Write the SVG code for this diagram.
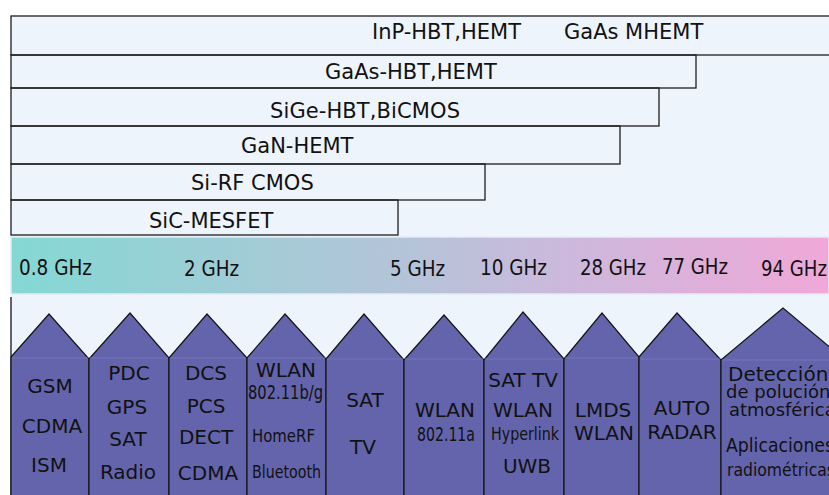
<svg xmlns="http://www.w3.org/2000/svg" width="829" height="495" viewBox="0 0 829 495">
  <defs>
    <linearGradient id="band" x1="0" y1="0" x2="1" y2="0">
      <stop offset="0" stop-color="#84d8d4"/>
      <stop offset="0.48" stop-color="#b4c4d8"/>
      <stop offset="0.68" stop-color="#ccb8dc"/>
      <stop offset="1" stop-color="#f0a8d8"/>
    </linearGradient>
  </defs>
  <style>
    .bar { fill: none; stroke: #1e1e1e; stroke-width: 1.3; }
    .lbl { font-family: "DejaVu Sans", "Liberation Sans", sans-serif; font-size: 21px; fill: #111; }
    .freq { font-family: "DejaVu Sans", "Liberation Sans", sans-serif; font-size: 22px; fill: #111; }
    .house { fill: #6464ac; stroke: #141414; stroke-width: 1.2; stroke-linejoin: miter; }
    .eave { stroke: #7474b8; stroke-width: 1; }
    .app { font-family: "DejaVu Sans", "Liberation Sans", sans-serif; font-size: 20px; fill: #111; text-anchor: middle; }
    .small { font-size: 18px; }
    .left { text-anchor: start; }
  </style>

  <!-- page and panel -->
  <rect x="0" y="0" width="829" height="495" fill="#ffffff"/>
  <rect x="11" y="16" width="818" height="479" fill="#eef4fc"/>

  <!-- technology bars -->
  <g id="technologies">
    <g id="inp"><rect class="bar" x="11" y="16" width="830" height="39"/>
      <text class="lbl" x="372" y="39">InP-HBT,HEMT</text>
      <text class="lbl" x="564" y="39">GaAs MHEMT</text></g>
    <g id="gaas"><rect class="bar" x="11" y="55" width="685" height="33"/>
      <text class="lbl" x="325" y="79">GaAs-HBT,HEMT</text></g>
    <g id="sige"><rect class="bar" x="11" y="88" width="648" height="38"/>
      <text class="lbl" x="270" y="118" textLength="190">SiGe-HBT,BiCMOS</text></g>
    <g id="gan"><rect class="bar" x="11" y="126" width="609" height="38"/>
      <text class="lbl" x="241" y="153">GaN-HEMT</text></g>
    <g id="sirf"><rect class="bar" x="11" y="164" width="474" height="36"/>
      <text class="lbl" x="191" y="190">Si-RF CMOS</text></g>
    <g id="sic"><rect class="bar" x="11" y="200" width="387" height="35"/>
      <text class="lbl" x="149" y="228">SiC-MESFET</text></g>
  </g>

  <!-- frequency scale -->
  <g id="scale">
    <rect x="11" y="237" width="818" height="57" fill="url(#band)" stroke="#e4eaf4" stroke-width="1.5"/>
    <text class="freq" x="19" y="275" textLength="73" lengthAdjust="spacingAndGlyphs">0.8 GHz</text>
    <text class="freq" x="184" y="276" textLength="55" lengthAdjust="spacingAndGlyphs">2 GHz</text>
    <text class="freq" x="390" y="276" textLength="55" lengthAdjust="spacingAndGlyphs">5 GHz</text>
    <text class="freq" x="480" y="275" textLength="67" lengthAdjust="spacingAndGlyphs">10 GHz</text>
    <text class="freq" x="580" y="275" textLength="66" lengthAdjust="spacingAndGlyphs">28 GHz</text>
    <text class="freq" x="662" y="274" textLength="66" lengthAdjust="spacingAndGlyphs">77 GHz</text>
    <text class="freq" x="761" y="276" textLength="66" lengthAdjust="spacingAndGlyphs">94 GHz</text>
  </g>

  <!-- application houses -->
  <line x1="11" y1="297" x2="11" y2="495" stroke="#141414" stroke-width="1.3"/>
  <g id="applications">
    <g id="app1">
      <polygon class="house" points="11,357 49,314 89,359 89,500 11,500"/>
      <line class="eave" x1="12" y1="358" x2="88" y2="358"/>
      <text class="app" x="50" y="393">GSM</text>
      <text class="app" x="52" y="433">CDMA</text>
      <text class="app" x="49" y="472">ISM</text>
    </g>
    <g id="app2">
      <polygon class="house" points="89,359 130,313 169,358 169,500 89,500"/>
      <line class="eave" x1="90" y1="358" x2="168" y2="358"/>
      <text class="app" x="129" y="380">PDC</text>
      <text class="app" x="127" y="414">GPS</text>
      <text class="app" x="128" y="446">SAT</text>
      <text class="app" x="128" y="479">Radio</text>
    </g>
    <g id="app3">
      <polygon class="house" points="169,358 207,314 247,358 247,500 169,500"/>
      <line class="eave" x1="170" y1="358" x2="246" y2="358"/>
      <text class="app" x="206" y="380">DCS</text>
      <text class="app" x="206" y="413">PCS</text>
      <text class="app" x="206" y="444">DECT</text>
      <text class="app" x="208" y="480">CDMA</text>
    </g>
    <g id="app4">
      <polygon class="house" points="247,358 285,314 326,359 326,500 247,500"/>
      <line class="eave" x1="248" y1="358" x2="325" y2="358"/>
      <text class="app" x="286" y="377">WLAN</text>
      <text class="app left" x="248" y="399" textLength="75" lengthAdjust="spacingAndGlyphs">802.11b/g</text>
      <text class="app small left" x="252" y="442" textLength="63" lengthAdjust="spacingAndGlyphs">HomeRF</text>
      <text class="app small left" x="252" y="478" textLength="69" lengthAdjust="spacingAndGlyphs">Bluetooth</text>
    </g>
    <g id="app5">
      <polygon class="house" points="326,359 364,314 404,360 404,500 326,500"/>
      <line class="eave" x1="327" y1="359" x2="403" y2="359"/>
      <text class="app" x="365" y="407">SAT</text>
      <text class="app" x="363" y="454">TV</text>
    </g>
    <g id="app6">
      <polygon class="house" points="404,360 444,315 484,360 484,500 404,500"/>
      <line class="eave" x1="405" y1="359" x2="483" y2="359"/>
      <text class="app" x="445" y="417">WLAN</text>
      <text class="app left" x="417" y="441" textLength="58" lengthAdjust="spacingAndGlyphs">802.11a</text>
    </g>
    <g id="app7">
      <polygon class="house" points="484,360 523,312 564,359 564,500 484,500"/>
      <line class="eave" x1="485" y1="359" x2="563" y2="359"/>
      <text class="app" x="523" y="387">SAT TV</text>
      <text class="app" x="523" y="417">WLAN</text>
      <text class="app small left" x="491" y="440" textLength="68" lengthAdjust="spacingAndGlyphs">Hyperlink</text>
      <text class="app" x="527" y="473">UWB</text>
    </g>
    <g id="app8">
      <polygon class="house" points="564,359 602,313 639,357 639,500 564,500"/>
      <line class="eave" x1="565" y1="358" x2="638" y2="358"/>
      <text class="app" x="603" y="417">LMDS</text>
      <text class="app" x="604" y="440">WLAN</text>
    </g>
    <g id="app9">
      <polygon class="house" points="639,357 677,313 721,360 721,500 639,500"/>
      <line class="eave" x1="640" y1="359" x2="720" y2="359"/>
      <text class="app" x="682" y="415">AUTO</text>
      <text class="app" x="682" y="439">RADAR</text>
    </g>
    <g id="app10">
      <polygon class="house" points="721,360 783,308 845,360 845,500 721,500"/>
      <line class="eave" x1="722" y1="360" x2="829" y2="360"/>
      <text class="app left" x="728" y="381">Detección</text>
      <text class="app small left" x="726" y="398">de polución</text>
      <text class="app small left" x="729" y="416">atmosféricas</text>
      <text class="app left" x="726" y="452" textLength="108" lengthAdjust="spacingAndGlyphs">Aplicaciones</text>
      <text class="app small left" x="727" y="476" textLength="108" lengthAdjust="spacingAndGlyphs">radiométricas</text>
    </g>
  </g>
</svg>
